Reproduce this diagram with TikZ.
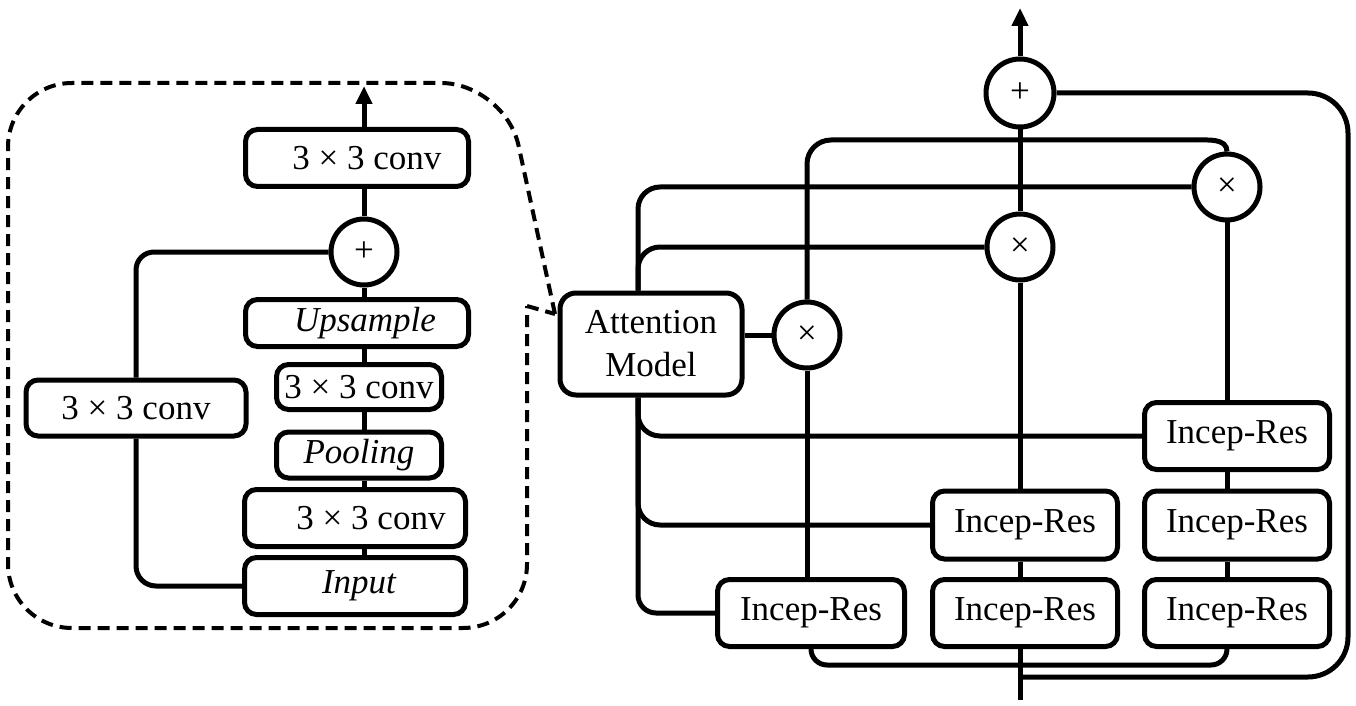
\documentclass[tikz,border=0pt]{standalone}
\usepackage{fontspec}
\setmainfont{Liberation Serif}
\usetikzlibrary{arrows.meta}
\begin{document}
\begin{tikzpicture}[x=0.5pt,y=-0.5pt,
  blk/.style={draw, line width=2.5pt, rounded corners=6pt, inner sep=0pt, align=center, font=\fontsize{17.5}{21.5}\selectfont},
  op/.style={draw, circle, line width=2.5pt, minimum size=33pt, inner sep=0pt, font=\fontsize{17.5}{21.5}\selectfont},
  conn/.style={line width=2.5pt},
  outarrow/.style={line width=2.5pt, -{Triangle[length=9pt,width=8pt]}},
  zoomline/.style={line width=2pt, dash pattern=on 6pt off 3.5pt}
]
\useasboundingbox (0,0) rectangle (1356,706);

% ---------- zoom outline ----------
\draw[zoomline, rounded corners=32pt] (555,314) -- (505,83) -- (8,83) -- (8,628) -- (527,628) -- (527,306);
\draw[zoomline] (527,306) -- (555,314);

% ---------- left panel nodes ----------
\node[blk, minimum width=111.5pt, minimum height=28.5pt] (tc) at (357,158) {\hspace*{10pt}3 × 3 conv};
\node[op] (plus) at (364,252) {+};
\node[blk, minimum width=111.5pt, minimum height=23.5pt] (up) at (357,323) {\hspace*{8pt}\itshape Upsample};
\node[blk, minimum width=82.5pt, minimum height=22.5pt] (mc) at (359,387) {3 × 3 conv};
\node[blk, minimum width=82.5pt, minimum height=23pt] (pool) at (359,455) {\itshape Pooling};
\node[blk, minimum width=110.5pt, minimum height=28.5pt] (lc) at (355,518) {\hspace*{16pt}3 × 3 conv};
\node[blk, minimum width=110.5pt, minimum height=28.5pt] (inp) at (355,586) {\hspace*{4pt}\itshape Input};
\node[blk, minimum width=110pt, minimum height=28pt] (lconv) at (136,408) {3 × 3 conv};
\coordinate (ltop) at (364,86);

% ---------- left panel connectors ----------
\draw[outarrow] (tc.north -| plus) -- (ltop);
\draw[conn] (plus.north) -- (plus.north |- tc.south);
\draw[conn] (plus.south) -- (plus.south |- up.north);
\draw[conn] (plus |- up.south) -- (plus |- mc.north);
\draw[conn] (plus |- mc.south) -- (plus |- pool.north);
\draw[conn] (plus |- pool.south) -- (plus |- lc.north);
\draw[conn] (plus |- lc.south) -- (plus |- inp.north);
\draw[conn, rounded corners=9pt] (plus.west) -| (lconv.north);
\draw[conn, rounded corners=10pt] (lconv.south) |- (inp.west);

% ---------- right panel nodes ----------
\node[blk, minimum width=91pt, minimum height=51pt, rounded corners=8pt] (att) at (651,344) {Attention\\Model};
\node[op] (ax) at (807,335) {×};
\node[op] (mx) at (1020,247) {×};
\node[op] (tx) at (1227,187) {×};
\node[op, minimum size=34pt] (pl) at (1020,93) {+};
\node[blk, minimum width=93.5pt, minimum height=33.5pt] (BL) at (811,613) {Incep-Res};
\node[blk, minimum width=92.5pt, minimum height=34pt] (MT) at (1025,525) {Incep-Res};
\node[blk, minimum width=92.5pt, minimum height=33.5pt] (MB) at (1025,613) {Incep-Res};
\node[blk, minimum width=92.5pt, minimum height=33.5pt] (RT) at (1237,436) {Incep-Res};
\node[blk, minimum width=92.5pt, minimum height=34pt] (RM) at (1237,525) {Incep-Res};
\node[blk, minimum width=92.5pt, minimum height=33.5pt] (RB) at (1237,613) {Incep-Res};
\coordinate (rtop) at (1020,8);
\coordinate (inbot) at (1020,700);
\coordinate (k1) at (1195,140);
\coordinate (ac) at (638,344);
\coordinate (bly) at (0,665);
\coordinate (oly) at (1348,677);

% ---------- right panel connectors ----------
\draw[outarrow] (pl.north) -- (rtop);
\draw[conn] (pl.south) -- (mx.north);
\draw[conn] (mx.south) -- (mx |- MT.north);
\draw[conn] (mx |- MT.south) -- (mx |- MB.north);
\draw[conn] (mx |- MB.south) -- (inbot);
\draw[conn, rounded corners=20pt] (pl.east) -- (pl.east -| oly) -- (oly) -- (inbot |- oly);
\draw[conn, rounded corners=8pt] (BL.south) -- (BL.south |- bly) -- (tx |- bly) -- (tx |- RB.south);
\draw[conn] (tx.south) -- (tx |- RT.north);
\draw[conn] (tx |- RT.south) -- (tx |- RM.north);
\draw[conn] (tx |- RM.south) -- (tx |- RB.north);
\draw[conn] (ax.west) -- (ax.west -| att.east);
\draw[conn] (ax.south) -- (ax |- BL.north);
\draw[conn, rounded corners=12pt] (ax.north) |- (k1);
\draw[conn] (k1) to[out=0, in=90] (tx.north);
\draw[conn, rounded corners=11pt] (att.north -| ac) |- (tx.west);
\draw[conn, rounded corners=11pt] (att.north -| ac) |- (mx.west);
\draw[conn, rounded corners=11pt] (att.south -| ac) |- (RT.west);
\draw[conn, rounded corners=11pt] (att.south -| ac) |- (MT.west);
\draw[conn, rounded corners=9pt] (att.south -| ac) |- (BL.west);
\end{tikzpicture}
\end{document}
